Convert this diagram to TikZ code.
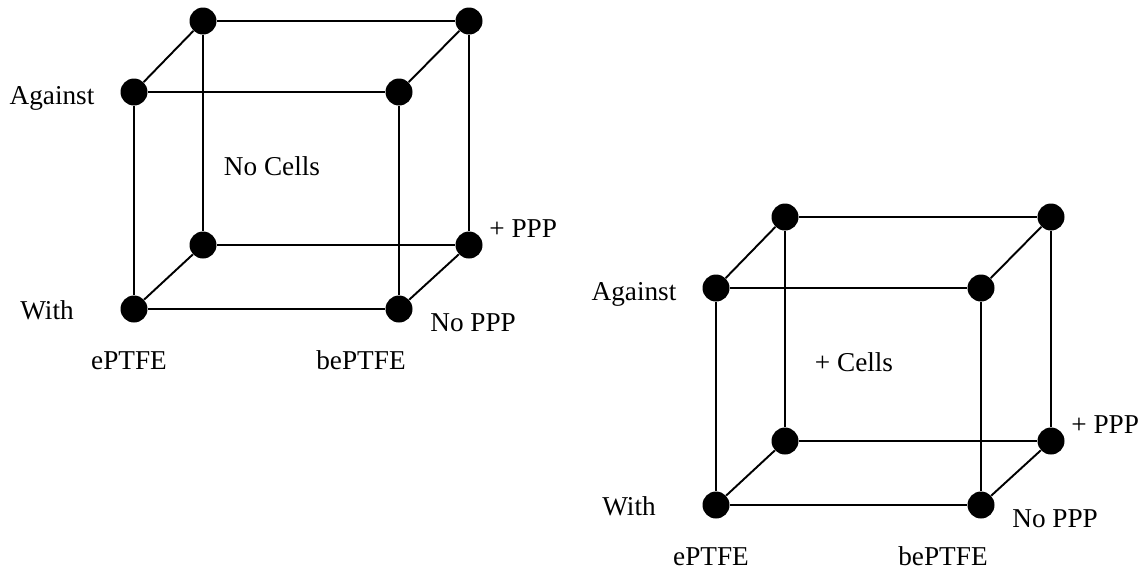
\documentclass[tikz,border=0pt]{standalone}
\usepackage{fontspec}
\setmainfont{Liberation Serif}
\usepackage{tikz}

\begin{document}
\begin{tikzpicture}[
        x=0.02cm, y=-0.02cm,
        vertex/.style={circle, fill=black, inner sep=0pt, minimum size=0.54cm},
        edge/.style={line width=1.1pt},
        lbl/.style={font=\fontsize{15.5}{18}\selectfont, inner sep=0pt}
    ]
    \useasboundingbox (0,0) rectangle (1143,569);
    \foreach \c/\dx/\dy/\cells in {L/0/0/No Cells, R/582/196/+ Cells}{
        \begin{scope}[shift={(\dx,\dy)}]
            % corners
            \node[vertex] (\c-ftl) at (134,92) {};
            \node[vertex] (\c-ftr) at (399,92) {};
            \node[vertex] (\c-fbl) at (134,309) {};
            \node[vertex] (\c-fbr) at (399,309) {};
            \node[vertex] (\c-btl) at (203,21) {};
            \node[vertex] (\c-btr) at (469,21) {};
            \node[vertex] (\c-bbl) at (203,245) {};
            \node[vertex] (\c-bbr) at (469,245) {};
            % edges
            \draw[edge] (\c-ftl) -- (\c-ftr);
            \draw[edge] (\c-fbl) -- (\c-fbr);
            \draw[edge] (\c-ftl) -- (\c-fbl);
            \draw[edge] (\c-ftr) -- (\c-fbr);
            \draw[edge] (\c-btl) -- (\c-btr);
            \draw[edge] (\c-bbl) -- (\c-bbr);
            \draw[edge] (\c-btl) -- (\c-bbl);
            \draw[edge] (\c-btr) -- (\c-bbr);
            \draw[edge] (\c-ftl) -- (\c-btl);
            \draw[edge] (\c-ftr) -- (\c-btr);
            \draw[edge] (\c-fbl) -- (\c-bbl);
            \draw[edge] (\c-fbr) -- (\c-bbr);
            % labels
            \node[lbl, anchor=base] (\c-against) at (52,104) {Against};
            \node[lbl, anchor=base] (\c-with) at (47,319) {With};
            \node[lbl, anchor=base] (\c-eptfe) at (129,369) {ePTFE};
            \node[lbl, anchor=base] (\c-beptfe) at (361,369) {bePTFE};
            \node[lbl, anchor=base] (\c-cells) at (272,175) {\cells};
            \node[lbl, anchor=base west] (\c-ppp) at (489,237) {+ PPP};
            \node[lbl, anchor=base west] (\c-noppp) at (430,331) {No PPP};
        \end{scope}
    }
\end{tikzpicture}
\end{document}
